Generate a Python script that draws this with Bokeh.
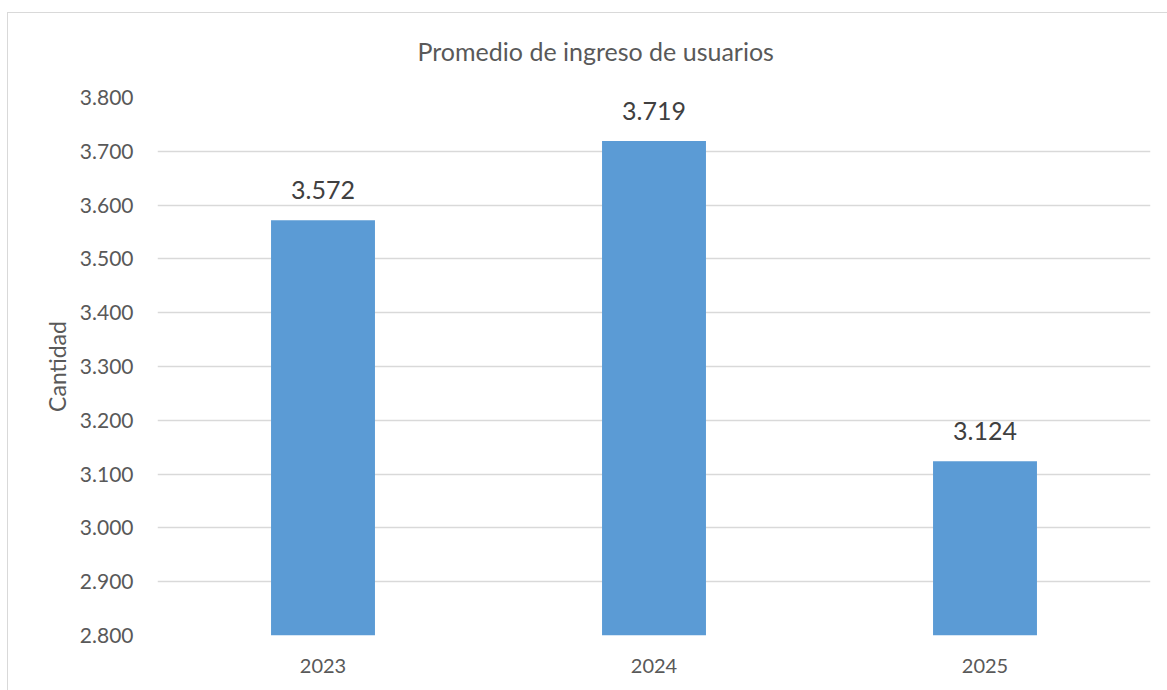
from bokeh.plotting import figure
from bokeh.models import ColumnDataSource, FixedTicker, LabelSet
from bokeh.core.properties import value
from bokeh.embed import file_html
from bokeh.resources import INLINE

years = ["2023", "2024", "2025"]
values = [3572, 3719, 3124]
value_labels = ["3.572", "3.719", "3.124"]
y_ticks = [2800, 2900, 3000, 3100, 3200, 3300, 3400, 3500, 3600, 3700, 3800]
y_tick_labels = ["2.800", "2.900", "3.000", "3.100", "3.200", "3.300", "3.400", "3.500", "3.600", "3.700", "3.800"]
title_text = "Promedio de ingreso de usuarios"

FONT = "Lato"
TXT = "#595959"

src = ColumnDataSource(dict(x=years, top=values, lab=value_labels))

p = figure(x_range=years, y_range=(2800, 3800), width=1167, height=690,
           frame_width=993, frame_height=538,
           min_border_left=157, min_border_top=97, min_border_right=17, min_border_bottom=55,
           output_backend="svg", toolbar_location=None, tools="")
# thin outer chart border (left and top edges visible in the reference)
p.styles = {
    "background-image": "linear-gradient(#d9d9d9, #d9d9d9), linear-gradient(#d9d9d9, #d9d9d9)",
    "background-size": "1px 100%, 100% 1px",
    "background-position": "7px 12px, 7px 12px",
    "background-repeat": "no-repeat",
}
p.border_fill_color = None
p.background_fill_color = "white"

p.vbar(x="x", top="top", bottom=2800, width=0.314, source=src,
       fill_color="#5B9BD5", line_color=None)

p.add_layout(LabelSet(x="x", y="top", text="lab", source=src, y_offset=21,
                      text_align="center", text_baseline="bottom",
                      text_font=value(FONT), text_font_size="25px", text_color="#404040"))

p.title.text = title_text
p.title.align = "left"
p.title.offset = 260
p.title.standoff = 64
p.title.text_font = FONT
p.title.text_font_size = "25px"
p.title.text_font_style = "normal"
p.title.text_color = TXT

p.yaxis.ticker = FixedTicker(ticks=y_ticks)
p.yaxis.major_label_overrides = {t: l for t, l in zip(y_ticks, y_tick_labels)}
p.yaxis.axis_label = "Cantidad"
for ax in (p.xaxis[0], p.yaxis[0]):
    ax.axis_line_color = None
    ax.major_tick_line_color = None
    ax.minor_tick_line_color = None
    ax.major_label_text_font = FONT
    ax.major_label_text_color = TXT
    ax.axis_label_text_font = FONT
    ax.axis_label_text_font_size = "23px"
    ax.axis_label_text_font_style = "normal"
    ax.axis_label_text_color = TXT
p.yaxis.major_label_text_font_size = "21px"
p.xaxis.major_label_text_font_size = "20px"
p.yaxis.major_label_standoff = 18
p.xaxis.major_label_standoff = 17
p.yaxis.axis_label_standoff = 6

p.xgrid.grid_line_color = None
p.ygrid.grid_line_color = "#d9d9d9"
p.ygrid.grid_line_width = 1.5
p.ygrid.ticker = FixedTicker(ticks=y_ticks)
p.outline_line_color = None

open("out.html", "w").write(file_html(p, INLINE))
